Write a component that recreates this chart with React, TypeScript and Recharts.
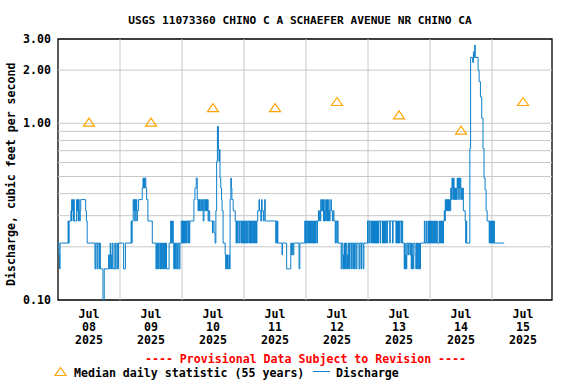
import React from "react";
import {
  ComposedChart,
  Line,
  Scatter,
  XAxis,
  YAxis,
  ReferenceLine,
  ReferenceArea,
} from "recharts";

const MONO = '"DejaVu Sans Mono", "Liberation Mono", monospace';
const FLOW_BLUE = "#0b7fcb";
const MEDIAN_ORANGE = "#ffa500";
const GRID_GRAY = "#c8c8c8";

const chartTitle = "USGS 11073360 CHINO C A SCHAEFER AVENUE NR CHINO CA";
const yAxisLabel = "Discharge, cubic feet per second";
const provisionalNote = "---- Provisional Data Subject to Revision ----";
const medianLegend = "Median daily statistic (55 years)";
const flowLegend = "Discharge";

// days shown on the x axis (hours counted from Jul 08 00:00)
const dayMonth = "Jul";
const dayLabels = ["08", "09", "10", "11", "12", "13", "14", "15"];
const dayYear = "2025";
const dayNoonHours = [12, 36, 60, 84, 108, 132, 156, 180];
const dayBoundaryHours = [24, 48, 72, 96, 120, 144, 168];
const xEndHour = 191.2;

const yTicks = [0.1, 1, 2, 3];
const yGridValues = [0.2, 0.3, 0.4, 0.5, 0.6, 0.7, 0.8, 0.9, 1, 2];

// median daily statistic, one per day
const medianCfs = [1.01, 1.01, 1.22, 1.22, 1.32, 1.11, 0.91, 1.32];

// discharge, step changes as [hour, cfs]
const jul08Flow: [number, number][] = [
  [0, 0.21], [0.4, 0.18], [0.6, 0.15], [0.8, 0.21],
  [3.9, 0.28], [4.1, 0.21], [4.3, 0.28],
  [5.0, 0.32], [5.2, 0.28], [5.3, 0.37], [5.5, 0.32], [5.7, 0.37], [5.9, 0.28], [6.1, 0.37], [6.3, 0.28],
  [7.2, 0.37], [7.4, 0.32], [7.6, 0.37], [7.8, 0.28], [8.0, 0.37], [8.2, 0.32], [8.4, 0.28], [8.6, 0.32], [8.8, 0.37],
  [10.7, 0.32], [11.0, 0.28], [11.3, 0.21],
  [14.3, 0.15], [14.6, 0.21], [15.1, 0.15], [15.4, 0.21], [15.9, 0.15], [16.1, 0.21], [16.4, 0.15],
  [17.4, 0.1], [17.9, 0.15],
  [19.6, 0.18], [19.8, 0.15], [20.0, 0.18], [20.2, 0.21], [20.4, 0.15], [20.6, 0.18], [20.8, 0.15], [21.0, 0.21], [21.3, 0.15],
  [22.0, 0.21], [22.3, 0.15], [22.8, 0.21], [23.1, 0.15], [23.4, 0.21],
];

const jul09Flow: [number, number][] = [
  [25.4, 0.15], [26.1, 0.21],
  [28.3, 0.28], [28.5, 0.21], [28.7, 0.28],
  [29.1, 0.37], [29.3, 0.32], [29.5, 0.37], [29.7, 0.28], [29.9, 0.37], [30.1, 0.32], [30.3, 0.37], [30.5, 0.28],
  [30.7, 0.32], [31.2, 0.37], [32.6, 0.43], [32.9, 0.49], [33.1, 0.43], [33.3, 0.49], [33.5, 0.43], [33.7, 0.49], [34.0, 0.43], [34.3, 0.37], [34.8, 0.28],
  [36.5, 0.21],
  [37.9, 0.15], [38.2, 0.21], [38.4, 0.15], [38.6, 0.21], [38.8, 0.15], [39.0, 0.21], [39.4, 0.15], [39.7, 0.21], [39.9, 0.15], [40.1, 0.21],
  [40.5, 0.15], [40.7, 0.21], [40.9, 0.15], [41.1, 0.21], [41.3, 0.15], [41.6, 0.21],
  [42.0, 0.15], [43.0, 0.21],
  [43.6, 0.28], [43.8, 0.21], [44.0, 0.28], [44.2, 0.21], [44.4, 0.28], [44.6, 0.21],
  [44.8, 0.15], [45.1, 0.21], [45.5, 0.15], [45.8, 0.21], [46.2, 0.15], [46.5, 0.21], [46.9, 0.15], [47.2, 0.21],
  [47.7, 0.28],
];

const jul10Flow: [number, number][] = [
  [48.0, 0.21], [48.2, 0.28], [48.4, 0.21], [48.6, 0.28], [48.8, 0.21], [49.0, 0.28], [49.2, 0.21], [49.4, 0.28], [49.7, 0.21], [49.9, 0.28],
  [50.3, 0.21], [50.5, 0.28], [50.8, 0.21], [51.0, 0.28],
  [52.6, 0.37], [53.0, 0.43], [53.5, 0.49], [53.9, 0.37], [54.2, 0.32], [54.4, 0.37], [54.6, 0.32], [54.8, 0.37], [55.0, 0.32], [55.3, 0.37],
  [55.6, 0.32], [55.9, 0.37], [56.2, 0.28], [56.5, 0.37], [56.8, 0.32], [57.1, 0.37],
  [57.3, 0.32], [57.5, 0.37], [57.7, 0.32], [57.9, 0.37], [58.1, 0.28], [58.4, 0.32], [58.7, 0.28],
  [59.8, 0.24], [60.0, 0.28], [60.4, 0.24], [60.8, 0.21],
  [61.1, 0.32], [61.4, 0.61], [61.7, 0.96], [62.1, 0.71], [62.3, 0.61], [62.5, 0.71], [62.7, 0.49], [63.0, 0.43], [63.3, 0.37], [63.5, 0.32], [63.9, 0.21],
  [64.7, 0.18], [64.9, 0.15], [65.1, 0.18], [65.3, 0.15], [65.6, 0.18], [65.8, 0.15], [66.2, 0.18], [66.4, 0.15],
  [66.6, 0.37], [66.9, 0.49], [67.1, 0.43], [67.3, 0.37], [67.8, 0.32], [68.6, 0.28],
  [68.9, 0.21], [69.1, 0.28], [69.3, 0.21], [69.5, 0.28], [70.0, 0.21], [70.3, 0.28], [70.8, 0.21], [71.0, 0.28], [71.3, 0.21], [71.5, 0.28], [71.7, 0.21], [71.9, 0.28],
];

const jul11Flow: [number, number][] = [
  [72.2, 0.21], [72.5, 0.28], [72.8, 0.21], [73.0, 0.28], [73.3, 0.21], [73.6, 0.28], [74.0, 0.21], [74.2, 0.28], [74.5, 0.21], [74.7, 0.28],
  [74.9, 0.21], [75.1, 0.28], [75.4, 0.21], [75.6, 0.28], [75.8, 0.21], [76.0, 0.28], [76.2, 0.21], [76.4, 0.28], [76.8, 0.21], [77.0, 0.28],
  [77.3, 0.32], [77.8, 0.37], [78.0, 0.32], [78.5, 0.28], [78.8, 0.37], [79.0, 0.32], [79.5, 0.28], [79.8, 0.32], [80.0, 0.37], [80.2, 0.28],
  [84.3, 0.21], [84.5, 0.28], [84.7, 0.21], [84.9, 0.28], [85.1, 0.21],
  [86.7, 0.18], [86.9, 0.21], [88.5, 0.15],
  [90.1, 0.21], [90.4, 0.18], [90.7, 0.21], [91.0, 0.18], [91.3, 0.21], [93.3, 0.15], [93.6, 0.21],
  [95.5, 0.28], [95.8, 0.21],
];

const jul12Flow: [number, number][] = [
  [96.0, 0.28], [96.3, 0.21], [96.5, 0.28], [96.8, 0.21], [97.0, 0.28], [97.2, 0.21], [97.4, 0.28], [97.6, 0.21], [97.8, 0.28], [98.0, 0.21],
  [98.2, 0.28], [98.4, 0.21], [98.6, 0.28], [98.8, 0.21], [99.0, 0.28], [99.2, 0.21], [99.4, 0.28], [99.6, 0.21], [99.8, 0.28], [100.2, 0.21],
  [100.4, 0.28], [100.8, 0.32], [101.0, 0.28], [101.3, 0.32], [101.5, 0.28],
  [101.7, 0.37], [101.9, 0.32], [102.2, 0.37], [102.4, 0.32], [102.7, 0.37], [102.8, 0.28], [103.0, 0.32], [103.1, 0.28], [103.3, 0.37], [103.4, 0.32],
  [103.6, 0.28], [103.8, 0.37], [103.9, 0.32], [104.1, 0.28], [104.3, 0.37], [104.4, 0.32], [104.6, 0.28], [104.8, 0.37], [104.9, 0.32], [105.1, 0.28],
  [105.3, 0.32], [105.6, 0.37], [105.8, 0.32], [106.2, 0.28], [106.5, 0.32], [106.8, 0.28],
  [107.3, 0.21], [107.5, 0.28], [107.9, 0.21], [108.1, 0.28], [108.4, 0.21],
  [109.6, 0.15], [109.9, 0.21], [110.3, 0.15], [110.5, 0.18], [110.7, 0.15], [110.9, 0.21], [111.3, 0.15], [111.5, 0.21], [111.8, 0.15], [112.0, 0.18],
  [112.2, 0.15], [112.4, 0.21], [112.8, 0.15], [113.0, 0.21], [113.5, 0.15], [113.7, 0.21], [114.1, 0.15], [114.4, 0.21], [114.8, 0.15], [115.0, 0.21],
  [115.4, 0.15], [115.7, 0.21], [116.5, 0.15], [116.8, 0.21], [117.3, 0.15], [117.5, 0.21], [118.1, 0.15], [118.4, 0.21],
  [119.8, 0.28],
];

const jul13Flow: [number, number][] = [
  [120.3, 0.21], [120.5, 0.28], [121.1, 0.21], [121.3, 0.28], [121.5, 0.21], [121.7, 0.28], [121.9, 0.21], [122.1, 0.28], [122.3, 0.21], [122.5, 0.28],
  [122.7, 0.21], [122.9, 0.28], [123.1, 0.21], [123.3, 0.28], [123.5, 0.21], [123.7, 0.28], [123.9, 0.21], [124.1, 0.28], [124.7, 0.21], [124.9, 0.28],
  [125.6, 0.21], [125.8, 0.28], [126.0, 0.21], [126.2, 0.28], [126.4, 0.21], [126.6, 0.28], [126.8, 0.21], [127.0, 0.28], [127.3, 0.21], [127.5, 0.28],
  [128.4, 0.21], [128.6, 0.28], [129.5, 0.21], [129.7, 0.28], [130.8, 0.21], [131.0, 0.28], [131.2, 0.21], [131.4, 0.28], [131.6, 0.21], [131.8, 0.28],
  [132.2, 0.21], [132.4, 0.28], [133.0, 0.21], [133.2, 0.28], [133.4, 0.21],
  [134.0, 0.15], [134.2, 0.21], [134.4, 0.15], [134.6, 0.18], [134.8, 0.15], [135.0, 0.21], [135.4, 0.18], [135.7, 0.21], [136.2, 0.18], [136.5, 0.21],
  [136.7, 0.15], [136.9, 0.21], [137.1, 0.15], [137.3, 0.18], [137.5, 0.15], [137.7, 0.21], [138.2, 0.18], [138.5, 0.15], [138.7, 0.21], [138.9, 0.15],
  [139.1, 0.21], [139.3, 0.15], [139.6, 0.21], [139.9, 0.15], [140.3, 0.21],
  [141.8, 0.28], [142.0, 0.21], [142.5, 0.28], [142.7, 0.21], [143.2, 0.28], [143.4, 0.21], [143.6, 0.28], [143.8, 0.21],
];

const jul14Flow: [number, number][] = [
  [144.0, 0.28], [144.2, 0.21], [144.4, 0.28], [144.6, 0.21], [145.0, 0.28], [145.2, 0.21], [145.4, 0.28], [145.6, 0.21], [145.8, 0.28], [146.0, 0.21],
  [146.2, 0.28], [146.4, 0.21], [146.6, 0.28], [146.8, 0.21], [147.5, 0.28], [147.7, 0.21], [147.9, 0.28], [148.1, 0.21], [148.3, 0.28], [148.5, 0.21],
  [148.7, 0.28], [148.9, 0.21], [149.2, 0.28],
  [149.5, 0.32], [149.7, 0.28], [149.9, 0.37], [150.1, 0.32], [150.3, 0.37], [150.5, 0.32], [150.7, 0.37], [150.9, 0.32], [151.1, 0.37], [151.3, 0.32],
  [151.5, 0.37], [151.8, 0.32],
  [152.0, 0.43], [152.3, 0.37], [152.5, 0.49], [152.7, 0.43], [152.9, 0.37], [153.1, 0.49], [153.3, 0.43], [153.5, 0.37], [153.7, 0.43], [153.9, 0.37],
  [154.1, 0.43], [154.3, 0.37], [154.5, 0.49], [154.7, 0.43], [154.9, 0.49], [155.1, 0.37], [155.3, 0.49], [155.5, 0.43], [155.7, 0.49], [155.9, 0.37],
  [156.1, 0.43], [156.4, 0.37], [156.6, 0.43], [156.9, 0.32], [157.6, 0.28], [157.8, 0.21], [158.0, 0.28], [158.2, 0.21],
  [159.4, 0.72], [159.7, 2.36], [160.5, 2.21], [160.8, 2.54], [161.0, 2.36], [161.3, 2.77], [161.5, 2.36],
  [162.6, 2.0], [163.0, 1.72], [163.5, 1.41], [164.0, 1.07], [164.5, 0.72], [164.9, 0.49], [165.3, 0.42], [165.7, 0.32], [166.1, 0.28],
  [166.9, 0.21], [167.1, 0.28], [167.3, 0.21], [167.5, 0.28], [167.7, 0.21], [167.9, 0.28],
];

const jul15Flow: [number, number][] = [
  [168.1, 0.21], [168.3, 0.28], [168.5, 0.21], [168.7, 0.28], [168.9, 0.21], [172.7, 0.21],
];

const flowData = [
  ...jul08Flow, ...jul09Flow, ...jul10Flow, ...jul11Flow,
  ...jul12Flow, ...jul13Flow, ...jul14Flow, ...jul15Flow,
].map(([h, cfs]) => ({ h, cfs }));

const medianData = dayNoonHours.map((h, i) => ({ h, median: medianCfs[i] }));

function trianglePath(cx: number, cy: number) {
  return `M${cx},${cy - 4.5}L${cx + 5.5},${cy + 3.5}L${cx - 5.5},${cy + 3.5}Z`;
}

function MedianTriangle(props: any) {
  const { cx, cy } = props;
  if (cx == null || cy == null) return null;
  return <path d={trianglePath(cx, cy)} fill="none" stroke={MEDIAN_ORANGE} strokeWidth={1.2} />;
}

function DateTick({ x, y, payload }: any) {
  const i = dayNoonHours.indexOf(payload.value);
  return (
    <g fontFamily={MONO} fontWeight="bold" fontSize={11.6} fill="#000" textAnchor="middle">
      <text x={x} y={y + 18.3}>{dayMonth}</text>
      <text x={x} y={y + 31}>{dayLabels[i]}</text>
      <text x={x} y={y + 44.3}>{dayYear}</text>
    </g>
  );
}

export default function App() {
  return (
    <div style={{ position: "absolute", left: 0, top: 0, width: 576, height: 384, background: "#fff" }}>
      <ComposedChart width={576} height={384} margin={{ top: 39, right: 24, bottom: 0, left: 0 }}>
        <XAxis
          dataKey="h"
          type="number"
          domain={[0, xEndHour]}
          ticks={dayNoonHours}
          interval={0}
          tick={<DateTick />}
          tickLine={false}
          axisLine={false}
          tickSize={0}
          tickMargin={0}
          height={84}
          allowDataOverflow
        />
        <YAxis
          type="number"
          scale="log"
          domain={[0.1, 3]}
          ticks={yTicks}
          interval={0}
          tickFormatter={(v: number) => v.toFixed(2)}
          tick={{ fontFamily: MONO, fontWeight: "bold", fontSize: 11.6, fill: "#000" }}
          tickLine={false}
          axisLine={false}
          tickSize={0}
          tickMargin={7}
          width={58}
          allowDataOverflow
        />
        {yGridValues.map((v) => (
          <ReferenceLine key={`gy${v}`} y={v} stroke={GRID_GRAY} strokeWidth={1} />
        ))}
        {dayBoundaryHours.map((h) => (
          <ReferenceLine key={`gx${h}`} x={h} stroke={GRID_GRAY} strokeWidth={1} />
        ))}
        <Line
          data={flowData}
          dataKey="cfs"
          type="stepAfter"
          stroke={FLOW_BLUE}
          strokeWidth={1}
          dot={false}
          activeDot={false}
          isAnimationActive={false}
        />
        <Scatter data={medianData} dataKey="median" shape={<MedianTriangle />} isAnimationActive={false} />
        <ReferenceArea
          x1={0}
          x2={xEndHour}
          y1={0.1}
          y2={3}
          fill="none"
          fillOpacity={0}
          stroke="#000"
          strokeWidth={1.3}
          ifOverflow="visible"
        />
      </ComposedChart>
      <svg
        width={576}
        height={384}
        style={{ position: "absolute", left: 0, top: 0, pointerEvents: "none" }}
        fontFamily={MONO}
        fontWeight="bold"
      >
        <text x={300} y={23.5} fontSize={11.2} textAnchor="middle" fill="#000">
          {chartTitle}
        </text>
        <text x={15.5} y={174.2} fontSize={11.6} textAnchor="middle" fill="#000" transform="rotate(-90 15.5 174.2)">
          {yAxisLabel}
        </text>
        <text x={305.5} y={363} fontSize={11.6} textAnchor="middle" fill="#ff0000">
          {provisionalNote}
        </text>
        <path d={trianglePath(60.5, 372)} fill="none" stroke={MEDIAN_ORANGE} strokeWidth={1.2} />
        <text x={74} y={377} fontSize={11.6} fill="#000">
          {medianLegend}
        </text>
        <line x1={313} x2={330} y1={371.5} y2={371.5} stroke={FLOW_BLUE} strokeWidth={1} />
        <text x={336} y={377} fontSize={11.6} fill="#000">
          {flowLegend}
        </text>
      </svg>
    </div>
  );
}
